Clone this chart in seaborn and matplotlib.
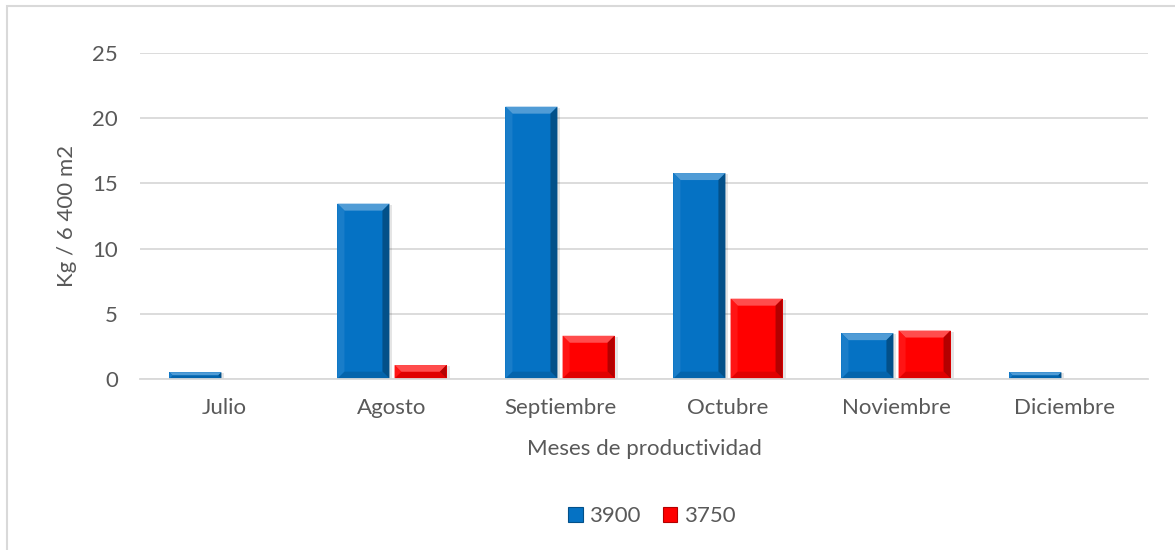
import numpy as np
import pandas as pd
import matplotlib
matplotlib.use("Agg")
import matplotlib.pyplot as plt
from matplotlib.patches import Polygon, Rectangle
import matplotlib.colors as mcolors
import seaborn as sns

# Monthly yield per variety (kg / 6 400 m2)
meses = ["Julio", "Agosto", "Septiembre", "Octubre", "Noviembre", "Diciembre"]
serie_3900 = [0.5, 13.45, 20.9, 15.8, 3.5, 0.5]
serie_3750 = [0.0, 1.05, 3.3, 6.15, 3.7, 0.0]
variedades = ["3900", "3750"]
colores = {"3900": "#0572C4", "3750": "#FF0000"}

df = pd.DataFrame({
    "mes": meses * 2,
    "valor": serie_3900 + serie_3750,
    "variedad": [variedades[0]] * len(meses) + [variedades[1]] * len(meses),
})

sns.set_theme(style="white")
plt.rcParams["font.family"] = ["Lato", "DejaVu Sans"]
texto = "#595959"
rejilla = "#D9D9D9"
fs = 16

fig = plt.figure(figsize=(11.75, 5.5), dpi=100)
ax = fig.add_axes([140 / 1175, 1 - 378.7 / 550, (1148 - 140) / 1175, (378.7 - 53.3) / 550])

sns.barplot(data=df, x="mes", y="valor", hue="variedad", hue_order=variedades,
            order=meses, palette=colores, width=0.68, gap=0.09,
            saturation=1, linewidth=0, legend=False, ax=ax)

ax.set_ylim(0, 25)
ax.set_yticks(range(0, 26, 5))
ax.set_xlim(-0.5, len(meses) - 0.5)
ax.yaxis.grid(True, color=rejilla, linewidth=1.3)
ax.set_axisbelow(True)
for lado in ["left", "right", "top"]:
    ax.spines[lado].set_visible(False)
ax.spines["bottom"].set_color(rejilla)
ax.spines["bottom"].set_linewidth(1.3)
ax.tick_params(axis="both", length=0, labelsize=fs, colors=texto)
ax.tick_params(axis="x", pad=14)
ax.tick_params(axis="y", pad=16)
ax.set_xlabel("Meses de productividad", fontsize=fs, color=texto, labelpad=15)
ax.set_ylabel("Kg / 6 400 m2", fontsize=fs, color=texto, labelpad=11)

# Beveled look on every bar drawn above
fig.canvas.draw()
inv = ax.transData.inverted()
for barra in list(ax.patches):
    h = barra.get_height()
    if h <= 0:
        barra.set_visible(False)
        continue
    base = mcolors.to_rgb(barra.get_facecolor())
    x0, y0 = barra.get_x(), barra.get_y()
    x1, y1 = x0 + barra.get_width(), y0 + h
    (px0, py0), (px1, py1) = ax.transData.transform([(x0, y0), (x1, y1)])
    b = min(7.0, (py1 - py0) / 2.0, (px1 - px0) / 2.0)
    claro = tuple(min(1, c + (1 - c) * 0.3) for c in base)
    medio = tuple(min(1, c + (1 - c) * 0.08) for c in base)
    oscuro = tuple(c * 0.7 for c in base)
    oscuro2 = tuple(c * 0.88 for c in base)

    def dat(pts):
        return inv.transform(pts)

    # soft shadow to the right and below
    sombra = dat([(px0 + 2, py0 - 2), (px1 + 3, py1 - 1)])
    ax.add_patch(Rectangle(sombra[0], sombra[1][0] - sombra[0][0], sombra[1][1] - sombra[0][1],
                           facecolor="#000000", alpha=0.10, linewidth=0, zorder=barra.get_zorder() - 0.1))
    caras = [
        ([(px0, py1), (px1, py1), (px1 - b, py1 - b), (px0 + b, py1 - b)], claro),
        ([(px0, py0), (px0, py1), (px0 + b, py1 - b), (px0 + b, py0 + b)], medio),
        ([(px1, py0), (px1, py1), (px1 - b, py1 - b), (px1 - b, py0 + b)], oscuro),
        ([(px0, py0), (px1, py0), (px1 - b, py0 + b), (px0 + b, py0 + b)], oscuro2),
    ]
    for pts, col in caras:
        ax.add_patch(Polygon(dat(pts), closed=True, facecolor=col, linewidth=0,
                             zorder=barra.get_zorder() + 0.1))

# Legend centred in the chart area below the plot
manijas = [Rectangle((0, 0), 1, 1, facecolor=colores[v], edgecolor=tuple(c * 0.7 for c in mcolors.to_rgb(colores[v])), linewidth=0.8)
           for v in variedades]
fig.legend(manijas, variedades, loc="center", bbox_to_anchor=(652 / 1175, 1 - 516 / 550), ncol=2,
           frameon=False, fontsize=fs, labelcolor=texto, handlelength=0.65, handleheight=0.65,
           handletextpad=0.3, columnspacing=1.0)

# Chart-area outline
fig.add_artist(Rectangle((6.5 / 1175, -0.1), 1.2, 1.1 - 6.5 / 550, transform=fig.transFigure,
                         fill=False, edgecolor=rejilla, linewidth=1.5))

fig.savefig("out.png", dpi=100, facecolor="white")
